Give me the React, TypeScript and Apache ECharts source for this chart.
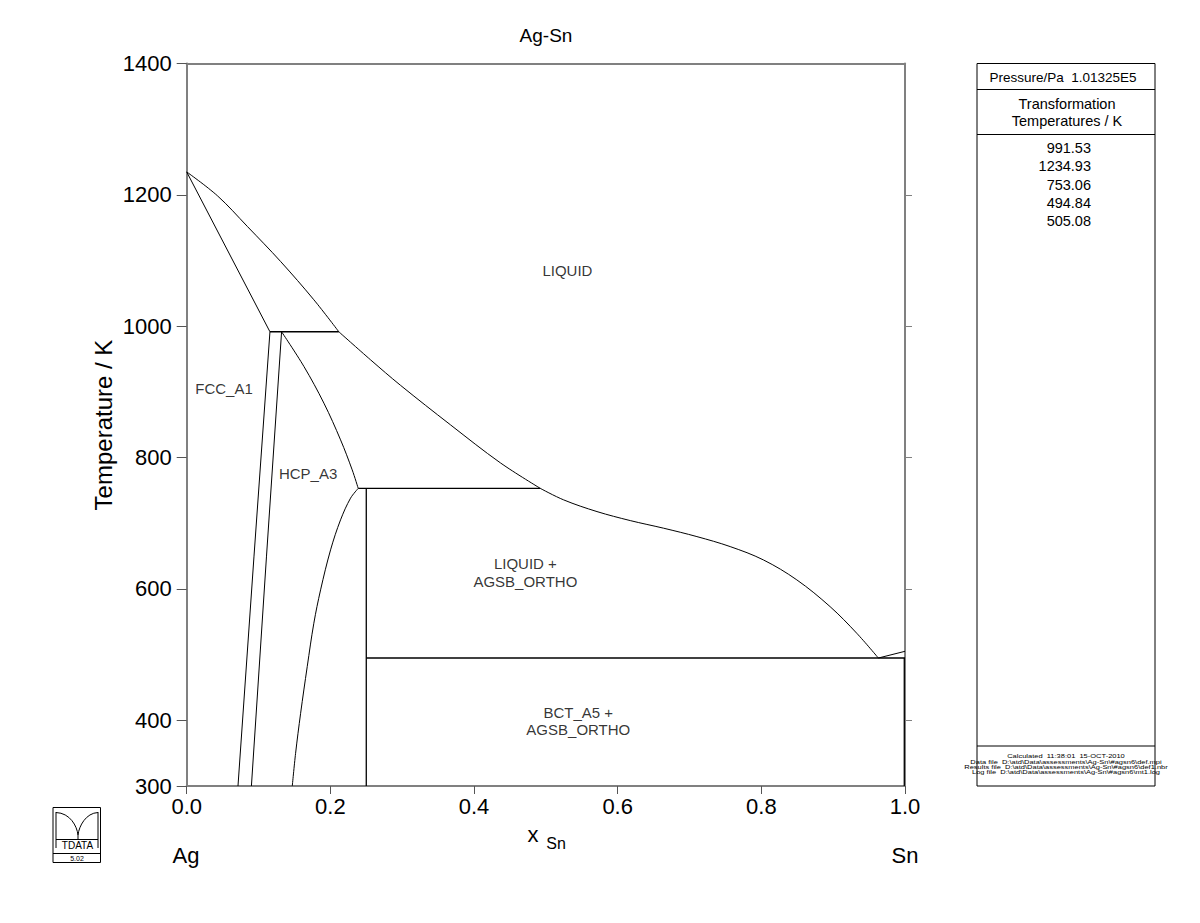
import React, { useEffect, useRef } from "react";
import * as echarts from "echarts";

const FONT = '"Liberation Sans", Arial, Helvetica, sans-serif';

// Axis ticks
const xTickValues = [0, 0.2, 0.4, 0.6, 0.8, 1.0];
const yTickValues = [300, 400, 600, 800, 1000, 1200, 1400];
const yRightTickValues = [400, 600, 800, 1000, 1200];

// Phase boundaries [x_Sn, T/K]
const liquidusUpper = [[0, 1234.93], [0.0427, 1198.7], [0.0844, 1152], [0.1307, 1098.6], [0.177, 1040.3], [0.2118, 991.53]];
const liquidusMid = [[0.2118, 991.53], [0.2559, 948.9], [0.2976, 910.1], [0.3672, 849.9], [0.4367, 792], [0.4924, 753.06]];
const liquidusLower = [[0.4924, 753.06], [0.5248, 735.6], [0.5712, 717.8], [0.6175, 704.1], [0.6639, 692.5], [0.7103, 679.7], [0.7566, 664.5], [0.8029, 644.2], [0.8494, 613.8], [0.8957, 573.1], [0.9328, 532.6], [0.9629, 494.84]];
const fccSolidus = [[0, 1234.93], [0.1159, 991.53]];
const fccSolvus = [[0.1159, 991.53], [0.0937, 650], [0.0714, 300]];
const hcpAgSide = [[0.1321, 991.53], [0.1111, 650], [0.0901, 300]];
const hcpLiquidSide = [[0.1321, 991.53], [0.1632, 938.7], [0.191, 882.9], [0.2142, 827], [0.2304, 781.3], [0.2388, 753.06]];
const hcpOrthoSide = [[0.2388, 753.06], [0.2281, 738.2], [0.2142, 705.2], [0.2003, 659.5], [0.1864, 598.6], [0.177, 547.8], [0.1678, 481.7], [0.1586, 410.7], [0.1516, 349.8], [0.147, 300]];
const peritectic991 = [[0.1159, 991.53], [0.2118, 991.53]];
const peritectic753 = [[0.2388, 753.06], [0.4924, 753.06]];
const eutectic495 = [[0.25, 494.84], [1, 494.84]];
const orthoLine = [[0.25, 753.06], [0.25, 300]];
const snLiquidus = [[0.9629, 494.84], [1, 505.08]];
const bctSolvus = [[0.999, 494.84], [0.999, 300]];

const phaseLabels = [
  { name: "LIQUID", value: [0.53, 1084.5] },
  { name: "FCC_A1", value: [0.0519, 904.7] },
  { name: "HCP_A3", value: [0.169, 775.2] },
  { name: "LIQUID +\nAGSB_ORTHO", value: [0.4715, 625.2] },
  { name: "BCT_A5 +\nAGSB_ORTHO", value: [0.5452, 399] },
];

const transformationTemps = ["991.53", "1234.93", "753.06", "494.84", "505.08"];
const fileInfo = [
  "Calculated  11:38:01  15-OCT-2010",
  "Data file  D:\\atd\\Data\\assessments\\Ag-Sn\\#agsn6\\def.mpi",
  "Results file  D:\\atd\\Data\\assessments\\Ag-Sn\\#agsn6\\def1.nbr",
  "Log file  D:\\atd\\Data\\assessments\\Ag-Sn\\#agsn6\\mt1.log",
];

const lineSeries = (data: number[][], width = 1, smooth: number | boolean = false) => ({
  type: "line",
  data,
  showSymbol: false,
  symbol: "none",
  silent: true,
  smooth,
  lineStyle: { color: "#000", width },
  z: 3,
});

export default function App() {
  const ref = useRef<HTMLDivElement>(null);
  useEffect(() => {
    document.body.style.margin = "0";
    const chart = echarts.init(ref.current!, null, { renderer: "svg" });
    const axisGray = "#808080";
    const txt = (text: string, x: number, y: number, size: number, align = "center", extra: any = {}, el: any = {}) => ({
      type: "text",
      x,
      y,
      silent: true,
      ...el,
      style: { text, fontSize: size, fontFamily: FONT, fill: "#000", align, verticalAlign: "middle", ...extra },
    });
    const ln = (x1: number, y1: number, x2: number, y2: number, w = 1) => ({
      type: "line",
      silent: true,
      shape: { x1, y1, x2, y2 },
      style: { stroke: "#000", lineWidth: w },
    });

    const graphics: any[] = [
      txt("Ag-Sn", 546, 35, 19),
      {
        type: "text",
        x: 103,
        y: 425,
        rotation: Math.PI / 2,
        silent: true,
        style: { text: "Temperature / K", fontSize: 24, fontFamily: FONT, fill: "#000", align: "center", verticalAlign: "middle" },
      },
      txt("x", 533, 834, 22),
      txt("Sn", 556, 843, 16),
      txt("Ag", 186, 855, 22),
      txt("Sn", 905, 855, 22),
      // right panel
      {
        type: "rect",
        silent: true,
        shape: { x: 977, y: 63.5, width: 178, height: 722.5 },
        style: { stroke: "#000", fill: "none", lineWidth: 1 },
      },
      ln(977, 89.5, 1155, 89.5),
      ln(977, 134.5, 1155, 134.5),
      ln(977, 746, 1155, 746),
      txt("Pressure/Pa  1.01325E5", 1063, 77, 13.5),
      txt("Transformation", 1067, 104, 14.5),
      txt("Temperatures / K", 1067, 121, 14.5),
      ...transformationTemps.map((t, i) => txt(t, 1091, 148 + i * 18.3, 14.5, "right")),
      ...fileInfo.map((t, i) => txt(t, 1066, 756.5 + i * 5.3, 5, "center", {}, { scaleX: 1.5 })),
      // TDATA logo
      {
        type: "rect",
        silent: true,
        shape: { x: 53, y: 807.5, width: 47.5, height: 55 },
        style: { stroke: "#000", fill: "none", lineWidth: 1 },
      },
      ln(53, 853.5, 100.5, 853.5),
      txt("5.02", 77, 858.3, 7),
      ln(56, 812, 56, 848),
      ln(98, 812, 98, 848),
      {
        type: "bezierCurve",
        silent: true,
        shape: { x1: 56, y1: 812.5, cpx1: 70, cpy1: 813, cpx2: 77, cpy2: 826, x2: 78, y2: 835 },
        style: { stroke: "#000", fill: "none", lineWidth: 1 },
      },
      {
        type: "bezierCurve",
        silent: true,
        shape: { x1: 78, y1: 835, cpx1: 79, cpy1: 826, cpx2: 86, cpy2: 813, x2: 98, y2: 812.5 },
        style: { stroke: "#000", fill: "none", lineWidth: 1 },
      },
      ln(78, 835, 78, 840),
      ln(56, 839.5, 98, 839.5),
      txt("TDATA", 77.5, 845.5, 10),
    ];

    chart.setOption({
      animation: false,
      backgroundColor: "#fff",
      textStyle: { fontFamily: FONT },
      grid: { left: 186.7, right: 295, top: 63.5, bottom: 137, containLabel: false },
      xAxis: [
        {
          type: "value",
          position: "bottom",
          min: 0,
          max: 1,
          interval: 0.2,
          axisLine: { show: true, onZero: false, lineStyle: { color: axisGray, width: 2 } },
          axisTick: { show: true, inside: false, length: 8, customValues: xTickValues, lineStyle: { color: "#555", width: 1 } },
          axisLabel: {
            show: true,
            margin: 9,
            fontSize: 22,
            color: "#000",
            fontFamily: FONT,
            customValues: xTickValues,
            showMinLabel: true,
            showMaxLabel: true,
            formatter: (v: number) => v.toFixed(1),
          },
          splitLine: { show: false },
        },
        {
          type: "value",
          position: "top",
          min: 0,
          max: 1,
          interval: 0.2,
          axisLine: { show: true, onZero: false, lineStyle: { color: axisGray, width: 2 } },
          axisTick: { show: false },
          axisLabel: { show: false },
          splitLine: { show: false },
        },
      ],
      yAxis: [
        {
          type: "value",
          position: "left",
          min: 300,
          max: 1400,
          axisLine: { show: true, onZero: false, lineStyle: { color: axisGray, width: 2 } },
          axisTick: { show: true, inside: false, length: 10, customValues: yTickValues, lineStyle: { color: "#555", width: 1 } },
          axisLabel: {
            show: true,
            margin: 15,
            fontSize: 22,
            color: "#000",
            fontFamily: FONT,
            customValues: yTickValues,
            showMinLabel: true,
            showMaxLabel: true,
            formatter: (v: number) => String(Math.round(v)),
          },
          splitLine: { show: false },
        },
        {
          type: "value",
          position: "right",
          min: 300,
          max: 1400,
          axisLine: { show: true, onZero: false, lineStyle: { color: axisGray, width: 2 } },
          axisTick: { show: true, inside: false, length: 7, customValues: yRightTickValues, lineStyle: { color: axisGray, width: 1 } },
          axisLabel: { show: false },
          splitLine: { show: false },
        },
      ],
      series: [
        lineSeries(liquidusUpper, 1, 0.35),
        lineSeries(liquidusMid, 1, 0.35),
        lineSeries(liquidusLower, 1, 0.35),
        lineSeries(fccSolidus),
        lineSeries(fccSolvus),
        lineSeries(hcpAgSide),
        lineSeries(hcpLiquidSide, 1, 0.35),
        lineSeries(hcpOrthoSide, 1, 0.35),
        lineSeries(peritectic991, 1.4),
        lineSeries(peritectic753, 1.4),
        lineSeries(eutectic495, 1.4),
        lineSeries(orthoLine, 1.3),
        lineSeries(snLiquidus),
        lineSeries(bctSolvus, 1.3),
        {
          type: "scatter",
          data: phaseLabels,
          symbolSize: 0,
          silent: true,
          z: 4,
          label: {
            show: true,
            position: "inside",
            formatter: (p: any) => p.name,
            fontSize: 15,
            lineHeight: 17.5,
            color: "#000",
            fontFamily: FONT,
            align: "center",
          },
        },
      ],
      graphic: graphics,
    });
    return () => chart.dispose();
  }, []);
  return <div ref={ref} style={{ width: 1200, height: 923 }} />;
}
